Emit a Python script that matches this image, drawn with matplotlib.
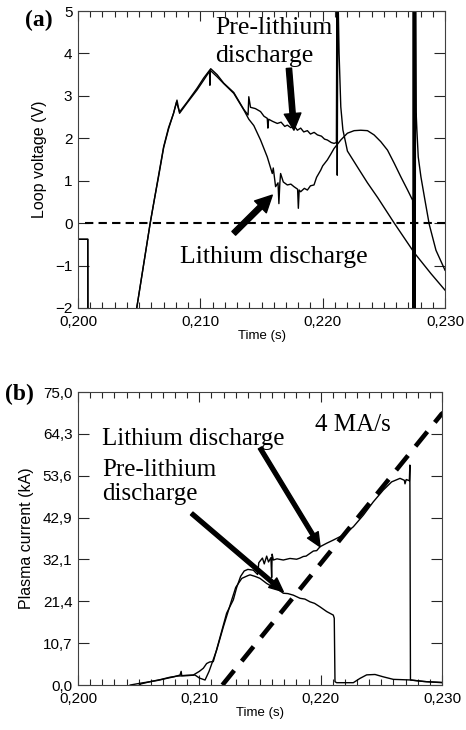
import numpy as np
import matplotlib
matplotlib.use("Agg")
import matplotlib.pyplot as plt
from matplotlib.ticker import FixedLocator, MultipleLocator

# ------------------------------
# Panel (a): loop voltage (V) vs time (s)
# ------------------------------
t_pre_a = [0.2000, 0.2008, 0.20081, 0.20447, 0.2059, 0.20623, 0.2066, 0.2070, 0.2074, 0.20781,
           0.20805, 0.2083, 0.20891, 0.20973, 0.21027, 0.21085, 0.21137, 0.21191, 0.21273, 0.21355,
           0.21390, 0.21396, 0.21410, 0.21450, 0.21492, 0.2152, 0.21547, 0.21552, 0.21558, 0.2159,
           0.21629, 0.2166, 0.21690, 0.21711, 0.2174, 0.21765, 0.21793, 0.2182, 0.21845, 0.21875,
           0.2190, 0.21930, 0.21957, 0.2199, 0.22015, 0.22038, 0.2207, 0.22093, 0.22112, 0.22116,
           0.22119, 0.22124, 0.22134, 0.22148, 0.22165, 0.22189, 0.22202, 0.2230, 0.22366, 0.2245,
           0.22585, 0.22749, 0.22885, 0.2300]
v_pre_a = [-0.38, -0.38, -2.6, -2.6, 0.0, 0.54, 1.15, 1.80, 2.25, 2.59,
           2.85, 2.62, 2.85, 3.18, 3.42, 3.64, 3.50, 3.30, 3.08, 2.68,
           2.55, 2.98, 2.73, 2.70, 2.63, 2.52, 2.47, 2.24, 2.45, 2.40,
           2.35, 2.38, 2.28, 2.31, 2.25, 2.30, 2.19, 2.24, 2.15, 2.18,
           2.10, 2.14, 2.08, 2.05, 1.98, 1.96, 1.90, 1.88, 1.90, 5.6,
           1.13, 5.6, 4.0, 2.74, 2.2, 1.88, 1.70, 1.25, 0.95, 0.60,
           0.0, -0.70, -1.19, -1.58]

t_li_a = [0.2000, 0.2008, 0.20081, 0.20447, 0.2059, 0.20623, 0.2066, 0.2070, 0.2074, 0.20781,
          0.20809, 0.2083, 0.20891, 0.20973, 0.21027, 0.21075, 0.21078, 0.21082, 0.21137, 0.21191,
          0.21273, 0.21355, 0.21396, 0.21437, 0.21492, 0.21547, 0.21588, 0.21596, 0.21615, 0.21635,
          0.21642, 0.21650, 0.21656, 0.21678, 0.21711, 0.2174, 0.21765, 0.21795, 0.21801, 0.21808,
          0.2182, 0.21850, 0.21875, 0.2190, 0.21929, 0.2195, 0.21984, 0.2200, 0.22038, 0.22065,
          0.22093, 0.22148, 0.22202, 0.22257, 0.22311, 0.22366, 0.2242, 0.22475, 0.2253, 0.22585,
          0.22639, 0.22694, 0.22735, 0.22738, 0.22741, 0.22744, 0.22747, 0.22750, 0.22753, 0.22756,
          0.22759, 0.22764, 0.22770, 0.22781, 0.22803, 0.22836, 0.22871, 0.22926, 0.2300]
v_li_a = [-0.38, -0.38, -2.6, -2.6, 0.0, 0.54, 1.12, 1.78, 2.22, 2.59,
          2.90, 2.59, 2.83, 3.14, 3.37, 3.58, 3.25, 3.60, 3.45, 3.29,
          3.06, 2.67, 2.45, 2.30, 1.96, 1.56, 1.17, 1.30, 0.86, 0.95,
          0.46, 0.95, 1.17, 0.97, 0.90, 0.92, 0.86, 0.80, 0.35, 0.78,
          0.74, 0.82, 0.78, 0.88, 0.90, 1.08, 1.25, 1.35, 1.49, 1.62,
          1.76, 1.96, 2.12, 2.18, 2.19, 2.18, 2.08, 1.92, 1.72, 1.41,
          1.09, 0.78, 0.54, -2.6, 5.6, -2.6, 5.6, -2.6, 5.6, -2.6,
          5.6, 2.6, 2.19, 1.56, 1.09, 0.54, -0.03, -0.64, -1.11]

t_zero = [0.2006, 0.2300]
v_zero = [0.0, 0.0]

# ------------------------------
# Panel (b): plasma current (kA) vs time (s)
# ------------------------------
t_li_b = [0.2043, 0.2052, 0.20593, 0.2066, 0.20731, 0.2079, 0.20841, 0.20850, 0.20855, 0.20896,
          0.2095, 0.21000, 0.21033, 0.2106, 0.21085, 0.21115, 0.21157, 0.21225, 0.2128, 0.21308,
          0.2134, 0.2137, 0.2140, 0.21445, 0.2148, 0.21490, 0.2152, 0.21535, 0.21555, 0.2157,
          0.21590, 0.21596, 0.21600, 0.2161, 0.2164, 0.21692, 0.21747, 0.21802, 0.2183, 0.21857,
          0.2188, 0.21912, 0.2194, 0.21967, 0.21995, 0.2205, 0.22104, 0.22187, 0.22269, 0.22352,
          0.22434, 0.22516, 0.22585, 0.22654, 0.22690, 0.22695, 0.22705, 0.22731, 0.22735, 0.22740,
          0.22764, 0.2285, 0.2300]
i_li_b = [0.0, 0.5, 0.85, 1.2, 1.7, 2.1, 2.56, 3.5, 2.4, 2.5,
          2.56, 3.5, 4.3, 5.5, 5.9, 6.0, 10.7, 18.4, 21.8, 25.0,
          27.8, 29.2, 29.6, 29.4, 28.3, 31.3, 32.5, 31.0, 33.0, 31.5,
          32.6, 27.5, 33.5, 32.0, 32.3, 32.0, 32.4, 32.2, 32.5, 32.9,
          33.0, 33.7, 34.3, 34.4, 35.4, 36.3, 37.1, 38.4, 40.5, 43.5,
          46.9, 49.9, 52.0, 52.9, 52.4, 51.5, 52.6, 52.3, 56.3, 1.3,
          1.2, 0.9, 0.6]

t_pre_b = [0.2048, 0.2052, 0.2060, 0.2068, 0.20758, 0.2082, 0.2090, 0.20964, 0.21000, 0.21047,
           0.2108, 0.21143, 0.21198, 0.21267, 0.2130, 0.2135, 0.2140, 0.21418, 0.2146, 0.2150,
           0.21555, 0.2160, 0.21637, 0.21692, 0.2173, 0.21775, 0.2183, 0.2187, 0.21912, 0.2195,
           0.21995, 0.2205, 0.22104, 0.22112, 0.22118, 0.22132, 0.22269, 0.22324, 0.22379, 0.22448,
           0.22516, 0.22599, 0.22736, 0.22874, 0.22997]
i_pre_b = [-0.5, 0.3, 0.9, 1.4, 2.0, 2.3, 2.4, 2.56, 1.8, 1.28,
           3.5, 8.96, 14.9, 21.8, 25.0, 27.3, 28.0, 28.2, 27.8, 27.3,
           26.0, 25.2, 24.7, 23.5, 23.4, 23.0, 22.2, 22.0, 21.3, 20.9,
           20.0, 18.8, 17.9, 17.1, 0.85, 0.6, 0.6, 1.7, 2.6, 2.7,
           2.1, 1.45, 1.3, 0.85, 0.68]

# 4 MA/s reference ramp
t_ramp = [0.2119, 0.2300]
i_ramp = [0.0, 69.5]

# ------------------------------
# Axis ticks
# ------------------------------
x_ticks = [0.200, 0.210, 0.220, 0.230]
x_labels = ["0,200", "0,210", "0,220", "0,230"]
ya_ticks = [-2, -1, 0, 1, 2, 3, 4, 5]
ya_labels = ["\u22122", "\u22121", "0", "1", "2", "3", "4", "5"]
yb_ticks = [0.0, 10.71, 21.43, 32.14, 42.86, 53.57, 64.29, 75.0]
yb_labels = ["0,0", "10,7", "21,4", "32,1", "42,9", "53,6", "64,3", "75,0"]

SANS = "Liberation Sans"
SERIF = "Liberation Serif"

fig = plt.figure(figsize=(4.66, 7.30), dpi=100)
ax_a = fig.add_axes([0.1674, 0.5781, 0.7876, 0.4068])
ax_b = fig.add_axes([0.1674, 0.0616, 0.7811, 0.4014])


def style_axes(ax, yticks, ylabels, ylabel):
    ax.set_xlim(0.200, 0.230)
    ax.xaxis.set_major_locator(FixedLocator(x_ticks))
    ax.set_xticklabels(x_labels, fontfamily=SANS, fontsize=11)
    ax.xaxis.set_minor_locator(MultipleLocator(0.001))
    ax.yaxis.set_major_locator(FixedLocator(yticks))
    ax.set_yticklabels(ylabels, fontfamily=SANS, fontsize=11)
    ax.tick_params(which="both", direction="in", top=True, right=True,
                   color="0.15", width=0.8)
    ax.tick_params(axis="x", which="major", length=7, pad=5)
    ax.tick_params(axis="x", which="minor", length=4)
    ax.tick_params(axis="y", which="major", length=8, pad=4)
    for sp in ax.spines.values():
        sp.set_color("0.25")
        sp.set_linewidth(0.8)
    ax.set_xlabel("Time (s)", fontfamily=SANS, fontsize=9.5, labelpad=1)
    ax.set_ylabel(ylabel, fontfamily=SANS, fontsize=11.5, labelpad=6)


# ------------------------------
# (a) Loop voltage
# ------------------------------
ax_a.plot(t_pre_a, v_pre_a, color="black", lw=1.0)
ax_a.plot(t_li_a, v_li_a, color="black", lw=1.0)
ax_a.plot(t_zero, v_zero, color="black", lw=1.5, dashes=(4, 2.5))
ax_a.set_ylim(-2, 5)
style_axes(ax_a, ya_ticks, ya_labels, "Loop voltage (V)")

ax_a.text(0.21123, 4.47, "Pre-lithium", fontfamily=SERIF, fontsize=18.5, va="baseline")
ax_a.text(0.21123, 3.80, "discharge", fontfamily=SERIF, fontsize=18.5, va="baseline")
ax_a.text(0.20836, -0.95, "Lithium discharge", fontfamily=SERIF, fontsize=18.5, va="baseline")

arrow_a = dict(arrowstyle="simple,head_length=1.2,head_width=1.2,tail_width=0.38",
               mutation_scale=10, fc="black", ec="black", shrinkA=0, shrinkB=0)
ax_a.annotate("", xy=(0.21765, 2.19), xytext=(0.21724, 3.65), arrowprops=arrow_a)
ax_a.annotate("", xy=(0.21588, 0.66), xytext=(0.21273, -0.24), arrowprops=arrow_a)

fig.text(25 / 466, 1 - 26 / 730, "(a)", fontfamily=SERIF, fontweight="bold",
         fontsize=17, va="baseline")

# ------------------------------
# (b) Plasma current
# ------------------------------
ax_b.plot(t_pre_b, i_pre_b, color="black", lw=1.0)
ax_b.plot(t_li_b, i_li_b, color="black", lw=1.0)
ax_b.plot(t_ramp, i_ramp, color="black", lw=3.3, dashes=(4.1, 2.6),
          marker="o", markevery=[1], markersize=2.5)
ax_b.set_ylim(0, 75)
style_axes(ax_b, yb_ticks, yb_labels, "Plasma current (kA)")

ax_b.text(0.20198, 61.4, "Lithium discharge", fontfamily=SERIF, fontsize=18, va="baseline")
ax_b.text(0.20198, 53.6, "Pre-lithium", fontfamily=SERIF, fontsize=18, va="baseline")
ax_b.text(0.20198, 47.4, "discharge", fontfamily=SERIF, fontsize=18, va="baseline")
ax_b.text(0.21953, 65.1, "4 MA/s", fontfamily=SERIF, fontsize=18, va="baseline")

arrow_b = dict(arrowstyle="simple,head_length=1.0,head_width=0.9,tail_width=0.28",
               mutation_scale=10, fc="black", ec="black", shrinkA=0, shrinkB=0)
ax_b.annotate("", xy=(0.21995, 35.4), xytext=(0.2150, 60.7), arrowprops=arrow_b)
ax_b.annotate("", xy=(0.21692, 23.9), xytext=(0.20937, 43.9), arrowprops=arrow_b)

fig.text(5 / 466, 1 - 400 / 730, "(b)", fontfamily=SERIF, fontweight="bold",
         fontsize=17, va="baseline")

fig.savefig("out.png", dpi=100)
